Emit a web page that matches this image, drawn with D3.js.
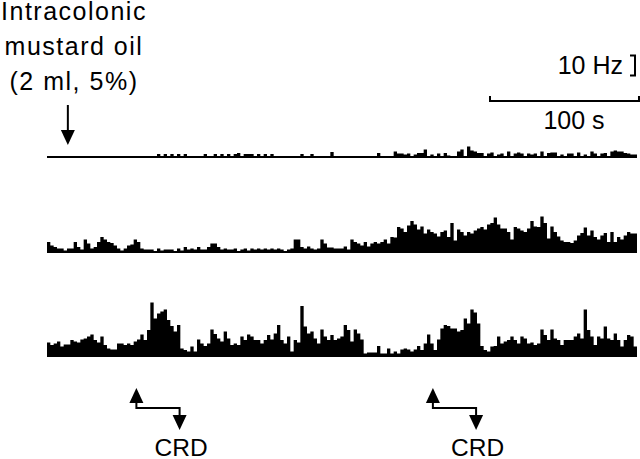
<!DOCTYPE html>
<html>
<head>
    <meta charset="utf-8"/>
    <title>Mustard oil - firing rate histograms</title>
    <script src="https://d3js.org/d3.v7.min.js"></script>
</head>
<style>
    body { margin: 0; background: white; }
    text { font-family: "Liberation Sans", Arial, sans-serif; font-size: 25px; fill: black; }
    .label { letter-spacing: 1.5px; }
</style>
<body>

<svg id="chart" width="640" height="459"></svg>

<script type="text/javascript">

    // firing rate per bin (Hz)
    var trace1 = [
        0,0,0,0,0,0,0,0,0,0, 0,0,0,0,0,0,0,0,0,0, 0,0,0,0,0,0,0,0,0,0,
        0,0,0,1.5,0,1.5,0,1.5,0,1.5, 0,1.5,0,0,0,0,0,1.5,0,0, 1.5,0,1.5,0,1.5,0,1.5,2,0,1.5,
        1.5,1.5,0,1.5,0,1.5,0,1.5,0,0, 0,0,0,0,0,0,1.5,0,0,1.5, 0,0,0,0,0,2.5,0,0,0,0,
        0,0,0,0,0,0,0,0,0,2, 0,0,0,0,2.8,1.7,1.7,1.2,1.7,0, 1.2,2,2,3.7,0.5,1.2,0,1.7,0,2,
        0.7,0.5,0,2.8,3.7,0.5,5.3,3.3,2.8,2, 2,0.5,1.7,2.3,0.5,1.2,1.7,0.5,2.8,0.5, 1.7,2.3,1.7,0.5,1.7,1.2,1.7,0.5,2.8,0.5,
        2,2.3,2.3,0.5,1.2,0.5,1.7,1.7,0.5,2.3, 0.5,1.2,0.5,2.8,1.7,0.5,1.7,2,0.5,2.8, 3.3,2.8,2.8,2,1.7,1.2,1.2
    ];
    var trace2 = [
        5,3.3,2.5,1.7,1.7,0.8,1.7,1.7,5,2.5, 1.2,6.2,4.2,1.7,2.5,5,7.5,6.2,5,4.5,
        3.3,1.7,0.8,1.7,3.3,3.8,6.2,5,1.7,1.2, 1.2,1.2,0.5,1.7,0.8,1.2,1.2,1.2,0.5,1.7,
        0.8,2.5,1.2,1.7,1.2,2.5,1.2,1.2,2.5,4.2, 4.2,2.5,1.2,1.7,1.2,1.2,1.7,0.5,1.2,1.7,
        0.8,1.7,1.2,1.7,1.2,1.7,1.2,1.7,1.2,1.7, 1.2,0.5,1.2,1.7,6.2,6.2,2.5,1.7,2.8,1.7,
        1.2,1.7,6.2,4.2,2.2,2.2,1.7,1.7,
        1.7,2.8,1.2,6.2,5,4.2,3.3,5,2.8,4.2, 5,4.2,5,6.2,4.2,7.5,7.2,12.5,11.7,10,
        13.3,15.5,13.8,11.2,12.8,9.2,11.2,10,9.2,7.8, 10,10.8,7.5,14.5,5.8,11.2,10,8.3,10,9.2,
        10.8,11.7,12.5,11.2,13.8,14.5,17.2,13.8,11.7,11.7, 10,6.2,12.5,11.7,10.8,10,11.7,15.5,12.8,12.5,
        17.8,14.5,6.7,12.8,10,7.8,5.8,5,5,4.5, 5.8,8.3,9.5,12.2,8.3,10.8,7.5,6.2,8.3,9.5,
        5,10,5,7.5,6.2,8.3,10,9.2,9.2
    ];
    var trace3 = [
        6.7,5.5,6.3,7.2,4.7,5.8,5.8,8,7.2,6.7, 8.3,8.8,9.7,10.8,8,6.7,9.7,5.5,3.8,3.3,
        3.3,6.3,6.3,5.5,6.3,5.5,7.2,8.3,10.8,8, 13,26.8,18.8,21.3,22.2,23.3,18,15,12.2,15.5,
        3.8,3,2.2,4.7,2.2,8.3,6.3,5,6.3,13.3, 11,8.8,7.2,12.2,8.8,5.5,6.3,5.5,9.7,8,
        10.8,9.7,8,8,6.3,8,10.5,8.3,11.3,15.5, 8,6.3,9.7,2.2,8,6.7,25,14.7,11.3,12.2,
        8.8,6.3,13.3,9.7,8,10.5,8,8.8,
        9.7,15.5,13,7.2,13.3,11.3,8.3,1.3,1.7,1.7, 1.7,5,1.3,1.3,3.8,1.3,2.2,1.3,3.3,3.8,
        3.3,2.2,3.3,5,3,6.3,10.8,6.3,3,8.3, 13.8,15.5,15,13.8,13.8,12.2,13,18.8,16.3,23.3,
        21.7,16.3,5,3,2.2,4.7,5,9.7,6.3,7.2, 8,9.7,8,6.3,9.7,8.8,6.3,6.7,5.5,6.3,
        13.3,10.5,8,13.3,8.8,8,5.5,8,8,8, 9.7,11.3,8.8,23.3,13,9.7,5.5,9.7,8.8,14.7,
        8.8,8,11.3,8,4.7,8,10.5,9.7,4.7
    ];
    var traces = [trace1, trace2, trace3];

    var totalSeconds = 396;      // length of each record
    var oilTime = 14;            // intracolonic mustard oil, s
    var crdOn = [60, 259];       // colorectal distension onset, s
    var crdOff = [89, 288];      // colorectal distension offset, s
    var timeBar = 100;           // s
    var rateBar = 10;            // Hz

    var svg = d3.select("#chart");

    var x = d3.scaleLinear().domain([0, totalSeconds]).range([47, 637]);
    var h = d3.scaleLinear().domain([0, rateBar]).range([0, 20]);
    var baselines = [157, 252, 356];

    // histograms
    traces.forEach(function (values, k) {
        var binSec = totalSeconds / values.length;
        var pts = values.map(function (v, i) { return [i * binSec, v]; });
        pts.push([totalSeconds, values[values.length - 1]]);
        var y0 = baselines[k];
        var area = d3.area()
                .curve(d3.curveStepAfter)
                .x(function (d) { return x(d[0]); })
                .y0(y0)
                .y1(function (d) { return y0 - h(d[1]); });
        svg.append("path")
                .attr("d", area(pts))
                .attr("fill", "black");
        svg.append("line")
                .attr("x1", x(0)).attr("x2", x(totalSeconds))
                .attr("y1", y0).attr("y2", y0)
                .attr("stroke", "black")
                .attr("stroke-width", 2);
    });

    function arrowHead(cx, tipY, dir) {
        // dir: 1 points down, -1 points up
        svg.append("path")
                .attr("d", "M" + (cx - 7) + "," + (tipY - dir * 15) +
                        " L" + (cx + 7) + "," + (tipY - dir * 15) +
                        " L" + cx + "," + tipY + " Z")
                .attr("fill", "black");
    }

    // mustard oil label and arrow
    var oilX = x(oilTime);
    ["Intracolonic", "mustard oil", "(2 ml, 5%)"].forEach(function (t, i) {
        svg.append("text")
                .attr("class", "label")
                .attr("x", 74)
                .attr("y", 20 + i * 35)
                .attr("text-anchor", "middle")
                .text(t);
    });
    svg.append("line")
            .attr("x1", oilX).attr("x2", oilX)
            .attr("y1", 105).attr("y2", 132)
            .attr("stroke", "black").attr("stroke-width", 2);
    arrowHead(oilX, 145, 1);

    // rate scale bar
    var rbX = 635, rbTop = 55.5;
    svg.append("path")
            .attr("d", "M" + (rbX - 5) + "," + rbTop + " H" + rbX +
                    " V" + (rbTop + h(rateBar)) + " H" + (rbX - 5))
            .attr("fill", "none").attr("stroke", "black").attr("stroke-width", 2);
    svg.append("text")
            .attr("x", 623).attr("y", 74)
            .attr("text-anchor", "end")
            .text(rateBar + " Hz");

    // time scale bar
    var tbX = 490, tbY = 101;
    var tbLen = x(timeBar) - x(0);
    svg.append("path")
            .attr("d", "M" + tbX + "," + (tbY - 5) + " V" + tbY + " H" + (tbX + tbLen) + " V" + (tbY - 5))
            .attr("fill", "none").attr("stroke", "black").attr("stroke-width", 2);
    svg.append("text")
            .attr("x", 574).attr("y", 129)
            .attr("text-anchor", "middle")
            .text(timeBar + " s");

    // CRD markers
    crdOn.forEach(function (t, i) {
        var xa = x(t), xb = x(crdOff[i]);
        svg.append("path")
                .attr("d", "M" + xa + ",400 V408 H" + xb + " V418")
                .attr("fill", "none").attr("stroke", "black").attr("stroke-width", 2);
        arrowHead(xa, 388, -1);
        arrowHead(xb, 430, 1);
        svg.append("text")
                .attr("x", xb + 1.5).attr("y", 456)
                .attr("text-anchor", "middle")
                .style("font-size", "24.5px")
                .text("CRD");
    });
</script>
</body>
</html>
